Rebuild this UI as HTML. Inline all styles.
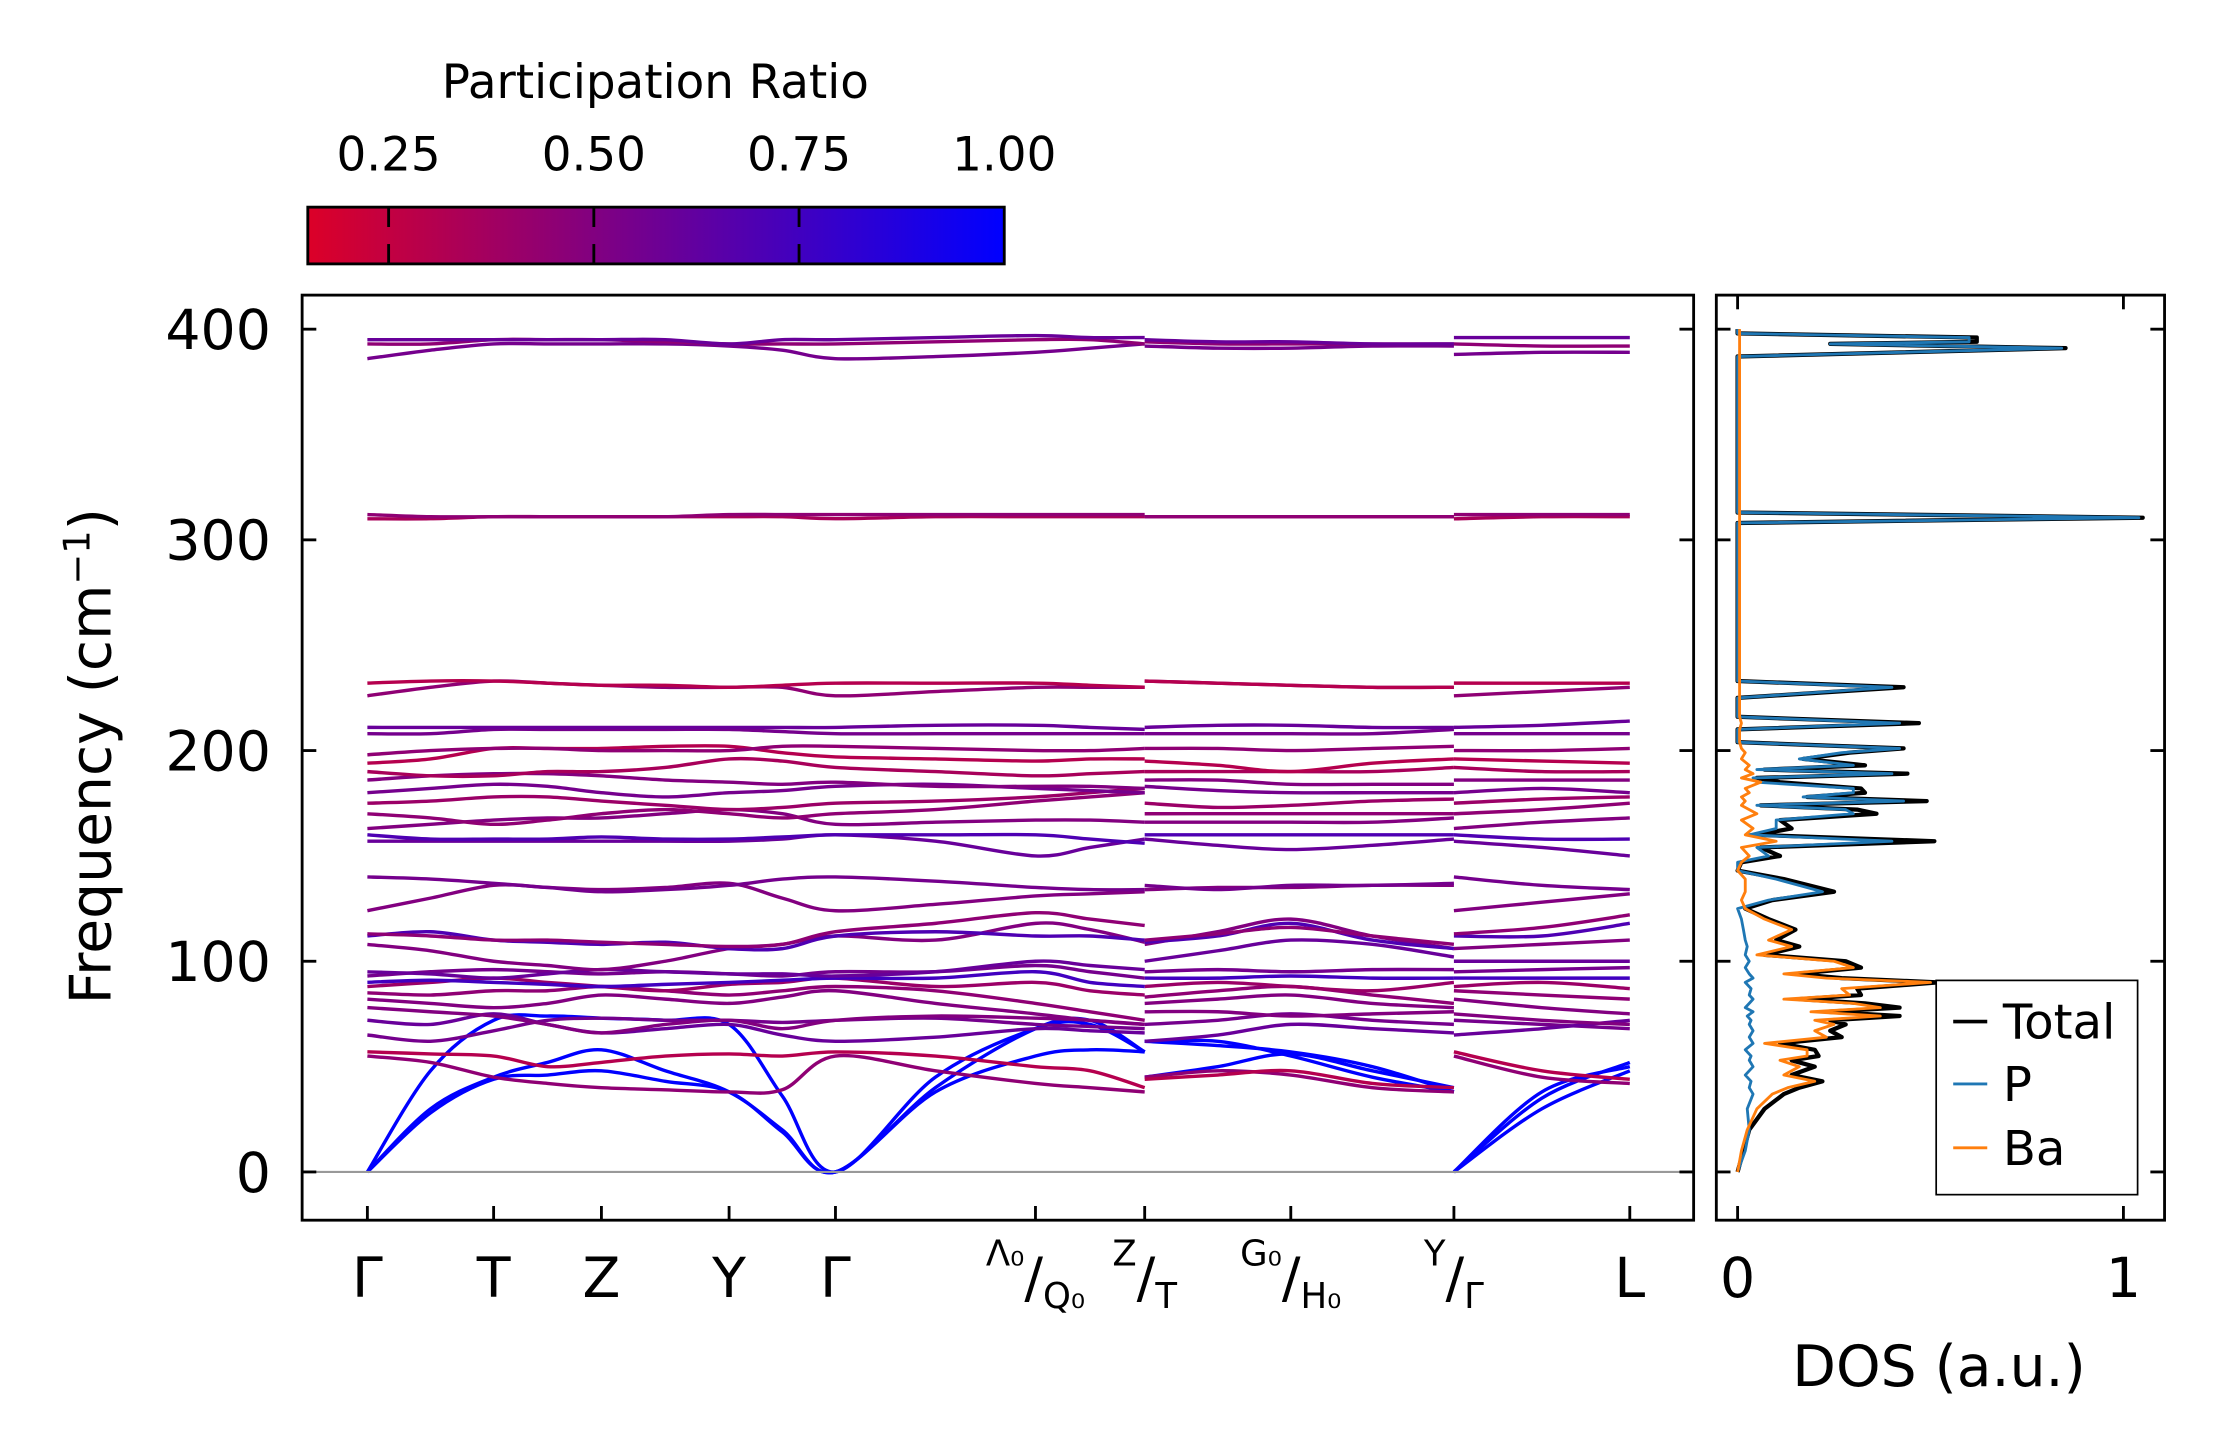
<!DOCTYPE html>
<html><head><meta charset="utf-8">
<style>
html,body{margin:0;padding:0;background:#fff;}
svg{display:block;font-family:"DejaVu Sans","Liberation Sans",sans-serif;}
</style></head>
<body>
<svg id="fig" width="2222" height="1455" viewBox="0 0 1566.5 1025.5" preserveAspectRatio="none" xmlns="http://www.w3.org/2000/svg">
<defs>
<linearGradient id="cmap" x1="0" x2="1" y1="0" y2="0">
<stop offset="0" stop-color="rgb(220,0,40)"/><stop offset="1" stop-color="rgb(0,0,255)"/>
</linearGradient>
<clipPath id="mainclip"><rect x="213" y="208" width="981" height="652"/></clipPath>
<clipPath id="dosclip"><rect x="1210" y="208" width="316" height="652"/></clipPath>
</defs>
<g id="colorbar">
<text x="462" y="69" font-size="33" text-anchor="middle">Participation Ratio</text>
<rect x="217" y="146" width="491" height="40" fill="url(#cmap)" stroke="#000" stroke-width="2"/>
</g>
<g id="bandsG" clip-path="url(#mainclip)"></g>
<line x1="213" x2="1194" y1="826" y2="826" stroke="#999" stroke-width="1.5"/>
<rect x="213" y="208" width="981" height="652" fill="none" stroke="#000" stroke-width="2"/>
<g id="dosG" clip-path="url(#dosclip)"></g>
<rect x="1210" y="208" width="316" height="652" fill="none" stroke="#000" stroke-width="2"/>
<g id="axesG"></g>
<text transform="translate(78,533) rotate(-90)" font-size="40" text-anchor="middle">Frequency (cm<tspan font-size="26" dy="-15">−1</tspan><tspan dy="15">)</tspan></text>
<text x="1367" y="977" font-size="40" text-anchor="middle">DOS (a.u.)</text>
<g>
<rect x="1365" y="691" width="142" height="151" fill="#fff" stroke="#000" stroke-width="1.2"/>
<line x1="1377" x2="1401" y1="720" y2="720" stroke="#000" stroke-width="2.5"/>
<text x="1412" y="732" font-size="34">Total</text>
<line x1="1377" x2="1401" y1="764" y2="764" stroke="#1f77b4" stroke-width="2"/>
<text x="1412" y="776" font-size="34">P</text>
<line x1="1377" x2="1401" y1="809" y2="809" stroke="#ff7f0e" stroke-width="2"/>
<text x="1412" y="821" font-size="34">Ba</text>
</g>
</svg>
<script>
// ---- data ----
const cbTicks = [0.25, 0.50, 0.75, 1.00];
const cbLabels = ["0.25", "0.50", "0.75", "1.00"];
const yTicks = [0, 100, 200, 300, 400];
const kLabels = ["Γ","T","Z","Y","Γ","Λ₀/Q₀","Z/T","G₀/H₀","Y/Γ","L"];
const dosTicks = [0, 1];
// bands: 21 knots = seg1 (13) | seg2 (5) | seg3 (3)
const bandFreqs = [
[0,30,45,52,58,48,38,20,0,40,68,72,57, 62,62,55,45,38, 0,35,52],
[0,28,44,46,48,43,38,19,0,38,55,58,57, 45,50,56,48,40, 0,30,48],
[0,48,72,74,73,72,70,36,0,45,68,70,57, 62,60,57,50,38, 0,38,50],
[55,52,45,42,40,39,38,39,55,48,42,40,38, 45,48,46,40,38, 55,45,42],
[57,56,55,50,52,55,56,55,57,55,50,48,40, 44,46,48,42,40, 57,48,44],
[65,62,67,72,73,72,72,71,72,73,70,69,68, 70,72,75,72,70, 72,70,68],
[72,70,75,70,66,68,70,65,62,64,68,67,66, 62,65,70,68,66, 65,68,72],
[78,76,74,70,66,70,72,68,72,74,73,72,70, 76,76,74,75,76, 75,72,70],
[82,80,78,80,84,82,80,83,86,80,75,72,70, 80,82,84,80,78, 82,78,75],
[85,84,86,86,88,86,84,86,88,86,80,76,72, 83,86,88,84,80, 86,84,82],
[88,90,92,90,88,86,89,90,92,88,90,86,84, 88,90,88,86,90, 88,90,87],
[90,91,90,89,88,89,90,91,92,92,95,90,88, 92,92,93,92,92, 92,92,92],
[93,95,96,95,94,95,94,93,95,95,98,95,92, 95,96,95,96,96, 95,96,97],
[95,94,92,94,96,95,94,94,93,95,100,98,96, 100,105,110,108,102, 100,100,100],
[108,105,100,98,96,100,106,108,112,110,118,115,109, 108,114,120,112,106, 106,108,110],
[112,114,110,109,108,109,106,106,112,114,112,112,110, 109,112,118,110,106, 112,112,118],
[113,112,110,110,109,108,107,108,114,118,123,120,117, 110,113,116,112,108, 113,116,122],
[124,130,136,135,134,135,137,130,124,127,131,132,133, 134,135,135,136,136, 124,128,132],
[140,139,137,135,133,134,136,139,140,138,135,134,134, 136,134,136,136,137, 140,136,134],
[157,157,157,157,157,157,157,158,160,157,150,154,158, 158,155,153,155,158, 157,154,150],
[160,158,158,158,159,158,158,159,160,160,160,158,156, 160,160,160,160,160, 160,158,158],
[163,165,167,168,168,170,172,170,165,166,167,167,166, 166,166,166,166,168, 163,166,168],
[170,168,165,167,170,172,170,168,170,172,176,178,180, 170,170,170,170,170, 170,172,175],
[175,176,178,178,176,174,172,173,175,176,178,180,182, 175,173,174,176,177, 175,177,178],
[180,182,184,183,180,178,180,181,183,184,182,181,180, 183,181,180,180,180, 180,182,180],
[186,188,189,189,188,186,185,184,185,183,183,183,182, 186,186,184,184,184, 186,186,186],
[190,188,188,190,190,192,196,195,192,190,188,189,190, 190,190,190,190,192, 192,190,190],
[194,196,201,201,201,202,202,199,197,196,195,196,196, 195,193,190,194,196, 196,195,194],
[198,200,201,201,200,200,200,202,202,201,200,200,201, 201,201,200,201,202, 200,200,201],
[208,208,210,210,210,210,210,209,208,208,208,208,208, 208,208,208,208,210, 208,208,208],
[211,211,211,211,211,211,211,211,211,212,212,211,210, 211,212,212,211,211, 211,212,214],
[226,230,233,232,231,230,230,230,226,228,230,230,230, 233,232,231,230,230, 226,228,230],
[232,233,233,232,231,231,230,231,232,232,232,231,230, 233,232,231,230,230, 232,232,232],
[310,310,311,311,311,311,311,311,310,311,311,311,311, 311,311,311,311,311, 310,311,311],
[312,311,311,311,311,311,312,312,312,312,312,312,312, 311,311,311,311,311, 312,312,312],
[386,390,393,393,393,393,392,390,386,387,389,391,393, 392,391,391,392,392, 388,389,389],
[393,393,395,395,395,394,393,393,393,394,395,395,393, 394,393,393,393,393, 393,392,392],
[395,395,395,395,395,395,393,395,395,396,397,396,396, 395,394,394,393,393, 396,396,396]
];
const bandRatio = [1,1,1,0.45,0.3,0.55,0.6,0.5,0.5,0.45,0.4,0.75,0.55,0.6,0.5,0.7,0.45,0.5,0.55,0.6,0.7,0.5,0.45,0.4,0.55,0.5,0.35,0.3,0.45,0.55,0.6,0.45,0.3,0.35,0.45,0.55,0.45,0.6];
// DOS
const dosFreq = [0,10,20,30,37,40,43,46,50,53,55,58,61,64,67,70,72,74,76,78,80,82,84,87,90,92,94,97,100,103,107,110,115,120,125,129,133,139,143,147,150,154,157,160,163,167,170,172,174,176,178,180,182,185,187,189,191,193,196,199,201,204,207,210,213,216,220,225,230,233,240,300,308,310.5,313,320,384,387,391,393,394,396,398,400];
const dosP =   [0,0.02,0.03,0.025,0.04,0.03,0.035,0.02,0.04,0.03,0.035,0.02,0.04,0.03,0.04,0.03,0.035,0.025,0.04,0.02,0.03,0.04,0.03,0.035,0.02,0.04,0.03,0.02,0.03,0.02,0.025,0.02,0.015,0.01,0.0,0.08,0.22,0.1,0.0,0.0,0.08,0.05,0.4,0.03,0.1,0.1,0.3,0.28,0.05,0.43,0.17,0.3,0.3,0.05,0.04,0.4,0.05,0.3,0.16,0.27,0.42,0.0,0.0,0.0,0.42,0.0,0.0,0.0,0.4,0.0,0.0,0.0,0.0,1.04,0.0,0.0,0.0,0.0,0.84,0.24,0.6,0.6,0.0,0.0];
const dosBa =  [0,0.01,0.025,0.05,0.09,0.13,0.2,0.12,0.16,0.11,0.18,0.18,0.07,0.23,0.2,0.25,0.2,0.37,0.19,0.37,0.3,0.12,0.29,0.27,0.5,0.23,0.12,0.3,0.25,0.05,0.14,0.08,0.14,0.07,0.02,0.01,0.02,0.02,0.0,0.01,0.03,0.01,0.1,0.02,0.04,0.01,0.05,0.03,0.01,0.02,0.01,0.03,0.02,0.06,0.01,0.04,0.02,0.03,0.01,0.02,0.01,0.005,0.005,0.005,0.01,0.005,0.005,0.005,0.005,0.005,0.005,0.005,0.005,0.005,0.005,0.005,0.005,0.005,0.005,0.005,0.005,0.005,0.005,0.005];
const dosTot = [0,0.015,0.03,0.07,0.12,0.16,0.22,0.14,0.2,0.14,0.21,0.2,0.11,0.27,0.24,0.28,0.24,0.42,0.23,0.42,0.33,0.16,0.32,0.31,0.52,0.27,0.15,0.32,0.28,0.07,0.16,0.1,0.15,0.08,0.02,0.09,0.25,0.12,0.0,0.01,0.11,0.06,0.51,0.05,0.14,0.11,0.36,0.31,0.06,0.49,0.18,0.33,0.32,0.11,0.05,0.44,0.07,0.33,0.17,0.29,0.43,0.0,0.0,0.0,0.47,0.0,0.0,0.0,0.43,0.0,0.0,0.0,0.0,1.05,0.0,0.0,0.0,0.0,0.85,0.24,0.62,0.62,0.0,0.0];

// ---- scales / layout ----
const NS = "http://www.w3.org/2000/svg";
const yScale = f => 826 - f * 1.485;
const dosX = v => 1225 + v * 272;
const cbX = v => 708 - (1.0 - v) * 578.7;
const kPos = [259,348,424,514,589,730,807,910,1025,1149];
function segKnots(a,b){ return [a,(a+b)/2]; }
const seg1X = [], seg2X = [], seg3X = [];
for (let i=0;i<6;i++){ seg1X.push(...segKnots(kPos[i],kPos[i+1])); } seg1X.push(kPos[6]);
for (let i=6;i<8;i++){ seg2X.push(...segKnots(kPos[i],kPos[i+1])); } seg2X.push(kPos[8]);
seg3X.push(kPos[8],(kPos[8]+kPos[9])/2,kPos[9]);
function cmap(p){
  const t = Math.max(0,Math.min(1,(p-0.151)/(1-0.151)));
  return `rgb(${Math.round(220*(1-t))},0,${Math.round(40+215*t)})`;
}
function smoothPath(pts){
  let d = `M${pts[0][0]},${pts[0][1]}`;
  for (let i=0;i<pts.length-1;i++){
    const p0=pts[Math.max(0,i-1)], p1=pts[i], p2=pts[i+1], p3=pts[Math.min(pts.length-1,i+2)];
    const c1x=p1[0]+(p2[0]-p0[0])/6, c1y=p1[1]+(p2[1]-p0[1])/6;
    const c2x=p2[0]-(p3[0]-p1[0])/6, c2y=p2[1]-(p3[1]-p1[1])/6;
    d += ` C${c1x.toFixed(1)},${c1y.toFixed(1)} ${c2x.toFixed(1)},${c2y.toFixed(1)} ${p2[0]},${p2[1].toFixed(1)}`;
  }
  return d;
}
function mk(tag, attrs, parent){
  const e = document.createElementNS(NS, tag);
  for (const k in attrs) e.setAttribute(k, attrs[k]);
  parent.appendChild(e); return e;
}
// colorbar ticks
const cbG = document.getElementById('colorbar');
cbTicks.forEach((v,i)=>{
  const x = cbX(v);
  if (v < 0.999){
    const t1 = mk('line',{x1:x,x2:x,y1:146,y2:160,stroke:'#000','stroke-width':2},cbG);
    
    
    const t2 = mk('line',{x1:x,x2:x,y1:172,y2:186,stroke:'#000','stroke-width':2},cbG);
    
    
  }
  const lb = mk('text',{x:x,y:120,'font-size':33,'text-anchor':'middle'},cbG);
  lb.textContent = cbLabels[i];
  
  
});
// bands
const bG = document.getElementById('bandsG');
bandFreqs.forEach((b,bi)=>{
  const col = cmap(bandRatio[bi]);
  const segs = [[seg1X,b.slice(0,13)],[seg2X,b.slice(13,18)],[seg3X,b.slice(18,21)]];
  segs.forEach(([xs,fs])=>{
    const pts = xs.map((x,i)=>[x,yScale(fs[i])]);
    const p = mk('path',{d:smoothPath(pts),fill:'none',stroke:col,'stroke-width':2.4},bG);
    
    
  });
});
// DOS curves
const dG = document.getElementById('dosG');
function dosLine(vals,col,w,name){
  const pts = dosFreq.map((f,i)=>`${dosX(vals[i]).toFixed(1)},${yScale(f).toFixed(1)}`).join(' ');
  const pl = mk('polyline',{points:pts,fill:'none',stroke:col,'stroke-width':w,'stroke-linejoin':'round'},dG);
  
  
}
dosLine(dosTot,'#000',3,'dos-total-line');
dosLine(dosP,'#1f77b4',2,'dos-p-line');
dosLine(dosBa,'#ff7f0e',2,'dos-ba-line');
// axes ticks
const aG = document.getElementById('axesG');
yTicks.forEach(v=>{
  const y = yScale(v);
  [[213,223],[1184,1194],[1210,1220],[1516,1526]].forEach(([a,b])=>{
    const t = mk('line',{x1:a,x2:b,y1:y,y2:y,stroke:'#000','stroke-width':2},aG);
    
    
  });
  const lb = mk('text',{x:191,y:y+14,'font-size':39,'text-anchor':'end'},aG);
  lb.textContent = String(v);
  
  
});
kPos.forEach((x,i)=>{
  const t = mk('line',{x1:x,x2:x,y1:850,y2:860,stroke:'#000','stroke-width':2},aG);
  
  
  const lab = kLabels[i];
  let tx;
  if (lab.includes('/')){
    const [a,b] = lab.split('/');
    tx = mk('text',{x:x,y:914,'text-anchor':'middle','font-size':39},aG);
    const s1 = mk('tspan',{'font-size':25,dy:-22},tx); s1.textContent = a;
    const s2 = mk('tspan',{dy:22},tx); s2.textContent = '/';
    const s3 = mk('tspan',{'font-size':25,dy:8},tx); s3.textContent = b;
  } else {
    tx = mk('text',{x:x,y:914,'text-anchor':'middle','font-size':39},aG);
    tx.textContent = lab;
  }
  
  
});
dosTicks.forEach(v=>{
  const x = dosX(v);
  [[850,860],[208,218]].forEach(([a,b])=>{
    const t = mk('line',{x1:x,x2:x,y1:a,y2:b,stroke:'#000','stroke-width':2},aG);
    
    
  });
  const lb = mk('text',{x:x,y:914,'font-size':39,'text-anchor':'middle'},aG);
  lb.textContent = String(v);
  
  
});
</script>
</body></html>
